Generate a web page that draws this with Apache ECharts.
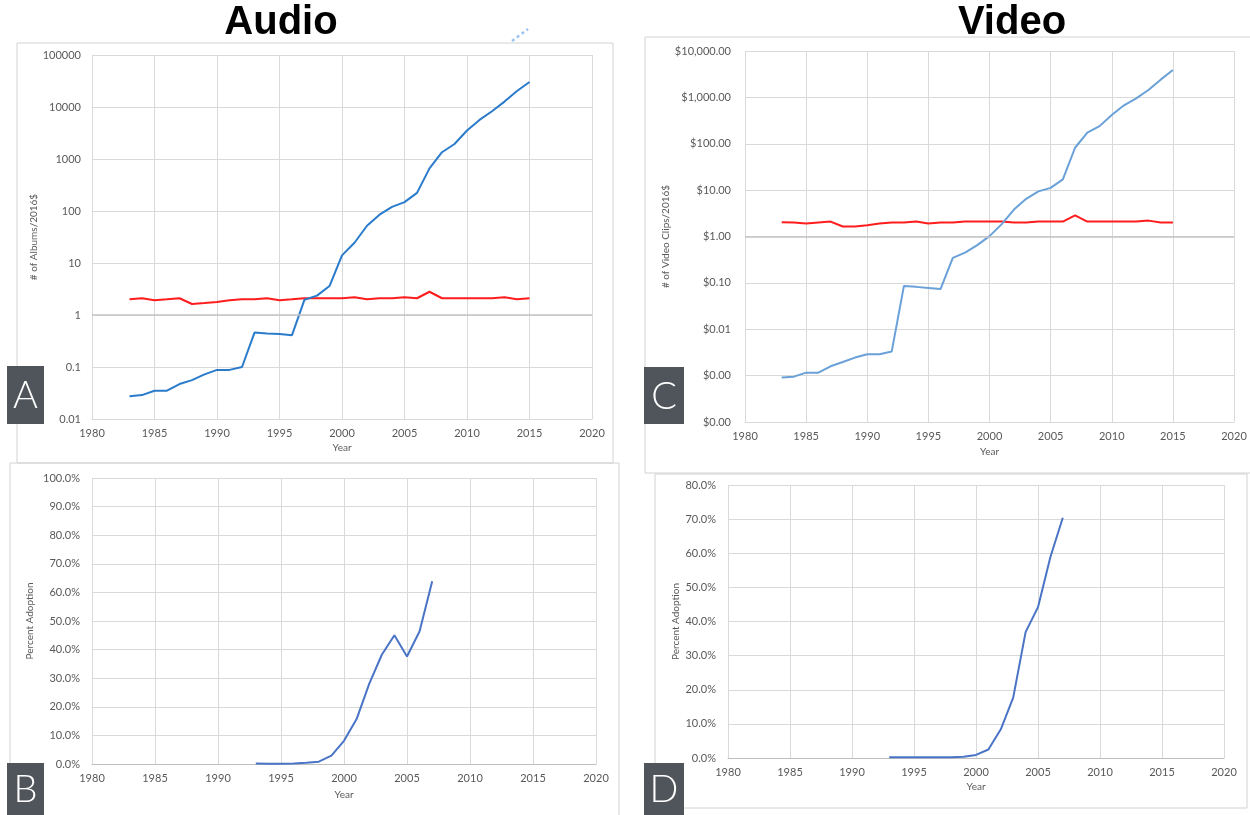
<!DOCTYPE html>
<html>
<head>
<meta charset="utf-8">
<script src="https://cdn.jsdelivr.net/npm/echarts@6/dist/echarts.min.js"></script>
<style>
html,body{margin:0;padding:0;background:#fff;}
#chart{width:1250px;height:815px;}
</style>
</head>
<body>
<div id="chart"></div>
<script>
// ---------- data ----------
const years = [1983,1984,1985,1986,1987,1988,1989,1990,1991,1992,1993,1994,1995,1996,1997,1998,1999,2000,2001,2002,2003,2004,2005,2006,2007,2008,2009,2010,2011,2012,2013,2014,2015];
const audioAlbumsPerDollar = [0.0275,0.0288,0.035,0.035,0.047,0.056,0.072,0.088,0.088,0.1,0.46,0.44,0.43,0.41,1.97,2.36,3.6,14,24.5,52,85,120,148,223,660,1350,1940,3530,5650,8300,12700,20300,30300];
const audioReference = [2.0,2.1,1.92,2.0,2.1,1.63,1.7,1.78,1.92,2.0,2.0,2.1,1.92,2.0,2.1,2.1,2.1,2.1,2.2,2.0,2.1,2.1,2.2,2.1,2.8,2.1,2.1,2.1,2.1,2.1,2.2,2.0,2.1];
const videoClipsPerDollar = [0.00091,0.00095,0.00116,0.00116,0.00159,0.00197,0.00245,0.0029,0.0029,0.0033,0.086,0.082,0.078,0.074,0.345,0.45,0.65,1.02,1.85,3.8,6.5,9.4,11.2,17,82,173,240,415,675,955,1445,2410,3890];
const videoReference = [2.04,2.0,1.9,2.0,2.1,1.64,1.64,1.75,1.9,2.0,2.0,2.1,1.9,2.0,2.0,2.1,2.1,2.1,2.1,2.0,2.0,2.1,2.1,2.1,2.85,2.1,2.1,2.1,2.1,2.1,2.2,2.0,2.0];

const adoptionYears = [1993,1994,1995,1996,1997,1998,1999,2000,2001,2002,2003,2004,2005,2006,2007];
const audioAdoption = [0.2,0.1,0.1,0.2,0.4,0.8,2.9,8.1,15.7,28.0,38.2,45.0,37.6,46.4,63.9];
const videoAdoption = [0.2,0.2,0.2,0.2,0.2,0.2,0.4,0.9,2.5,8.4,17.7,36.9,44.2,58.9,70.4];

const panelTitles = ['Audio','Video'];
const panelLetters = ['A','B','C','D'];
const yNames = ['# of Albums/2016$','Percent Adoption','# of Video Clips/2016$','Percent Adoption'];
const xName = 'Year';

// ---------- helpers ----------
const pairs = (xs, ys) => xs.map((x, i) => [x, ys[i]]);
const GRID = '#d9d9d9';
const LABEL = '#595959';
const FONT = 'Lato, "Open Sans", sans-serif';

function xAxisOf(gridIndex, gap, axisColor) {
  return {
    type: 'value', gridIndex, min: 1980, max: 2020, interval: 5,
    name: xName, nameLocation: 'middle', nameGap: gap,
    nameTextStyle: {color: LABEL, fontSize: 10, fontFamily: FONT},
    axisLine: {show: true, lineStyle: {color: axisColor, width: 1}},
    axisTick: {show: false},
    axisLabel: {color: LABEL, fontSize: 11, fontFamily: FONT, margin: 9, formatter: v => String(v)},
    splitLine: {show: true, lineStyle: {color: GRID, width: 1}}
  };
}
function yAxisBase(gridIndex, name, gap, margin) {
  return {
    gridIndex, name, nameLocation: 'middle', nameGap: gap,
    nameTextStyle: {color: LABEL, fontSize: 10, fontFamily: FONT},
    axisLine: {show: false}, axisTick: {show: false},
    axisLabel: {color: LABEL, fontSize: 11, fontFamily: FONT, margin},
    splitLine: {show: true, lineStyle: {color: GRID, width: 1}}
  };
}

const yA = Object.assign(yAxisBase(0, yNames[0], 52, 11), {type: 'log', logBase: 10, min: 0.01, max: 100000, interval: 1, splitNumber: 7});
yA.axisLabel.formatter = v => String(parseFloat(Number(v).toPrecision(6)));
const yB = Object.assign(yAxisBase(1, yNames[1], 57, 12), {type: 'value', min: 0, max: 100, interval: 10});
yB.axisLabel.formatter = v => v.toFixed(1) + '%';
const yC = Object.assign(yAxisBase(2, yNames[2], 72, 14), {type: 'log', logBase: 10, min: 0.0001, max: 10000, interval: 1, splitNumber: 8});
yC.axisLabel.formatter = v => '$' + Number(v).toLocaleString('en-US', {minimumFractionDigits: 2, maximumFractionDigits: 2});
const yD = Object.assign(yAxisBase(3, yNames[3], 47, 12), {type: 'value', min: 0, max: 80, interval: 10});
yD.axisLabel.formatter = v => v.toFixed(1) + '%';

function line(name, xi, data, color, width) {
  return {name, type: 'line', xAxisIndex: xi, yAxisIndex: xi, data, showSymbol: false, symbol: 'none',
          lineStyle: {color, width}, itemStyle: {color}, silent: true, animation: false, z: 3};
}
const unitLine = {silent: true, symbol: 'none', label: {show: false},
                  lineStyle: {color: '#c4c4c4', width: 1.5, type: 'solid'}, data: [{yAxis: 1}], animation: false};

const sAudio = line('Audio', 0, pairs(years, audioAlbumsPerDollar), '#2a7bcb', 2);
const sAudioRef = line('Audio reference', 0, pairs(years, audioReference), '#ff1c1c', 2);
sAudioRef.markLine = unitLine;
const sAudioAdopt = line('Audio adoption', 1, pairs(adoptionYears, audioAdoption), '#4a74c6', 2);
const sVideo = line('Video', 2, pairs(years, videoClipsPerDollar), '#69a1d8', 2);
const sVideoRef = line('Video reference', 2, pairs(years, videoReference), '#ff1c1c', 2);
sVideoRef.markLine = unitLine;
const sVideoAdopt = line('Video adoption', 3, pairs(adoptionYears, videoAdoption), '#4a74c6', 2);

const BORDER = '#d2d2d2';
function frame(x1, y1, x2, y2) {
  return {type: 'rect', silent: true, shape: {x: x1, y: y1, width: x2 - x1, height: y2 - y1},
          style: {fill: null, stroke: BORDER, lineWidth: 1}, z: -1};
}
function badge(x, y, w, h, letter) {
  return [
    {type: 'rect', silent: true, shape: {x, y, width: w, height: h}, style: {fill: '#50555c'}, z: 10},
    {type: 'text', silent: true, x: x + w / 2, y: y + h / 2 + 1, style: {text: letter, fill: '#ffffff',
      font: '300 38px Lato, "Open Sans", sans-serif', align: 'center', verticalAlign: 'middle'}, z: 11}
  ];
}

const option = {
  backgroundColor: '#ffffff',
  animation: false,
  grid: [
    {left: 92, top: 55, width: 500, height: 364},
    {left: 92, top: 478, width: 504, height: 286},
    {left: 745, top: 51, width: 489, height: 371},
    {left: 728, top: 485, width: 496, height: 273}
  ],
  xAxis: [xAxisOf(0, 24, GRID), xAxisOf(1, 26, '#bfbfbf'), xAxisOf(2, 25, GRID), xAxisOf(3, 24, '#bfbfbf')],
  yAxis: [yA, yB, yC, yD],
  series: [sAudioRef, sAudio, sAudioAdopt, sVideoRef, sVideo, sVideoAdopt],
  graphic: [
    frame(17, 43, 613, 463),
    frame(10, 463, 619, 830),
    frame(645, 37, 1265, 473),
    frame(655, 474, 1247, 808),
    {type: 'line', silent: true, shape: {x1: 512, y1: 41, x2: 528, y2: 29},
     style: {stroke: '#9cc4f2', lineWidth: 2.5, lineDash: [3, 3]}, z: 5},
    {type: 'text', silent: true, x: 281, y: 23, style: {text: panelTitles[0], fill: '#000',
      font: 'bold 40px "Liberation Sans", Arial, sans-serif', align: 'center', verticalAlign: 'middle'}},
    {type: 'text', silent: true, x: 1012, y: 23, style: {text: panelTitles[1], fill: '#000',
      font: 'bold 40px "Liberation Sans", Arial, sans-serif', align: 'center', verticalAlign: 'middle'}},
    ...badge(7, 366, 37, 58, panelLetters[0]),
    ...badge(7, 763, 37, 52, panelLetters[1]),
    ...badge(644, 367, 40, 57, panelLetters[2]),
    ...badge(644, 763, 40, 52, panelLetters[3])
  ]
};

const chart = echarts.init(document.getElementById('chart'), null, {renderer: 'canvas'});
chart.setOption(option);
</script>
</body>
</html>
